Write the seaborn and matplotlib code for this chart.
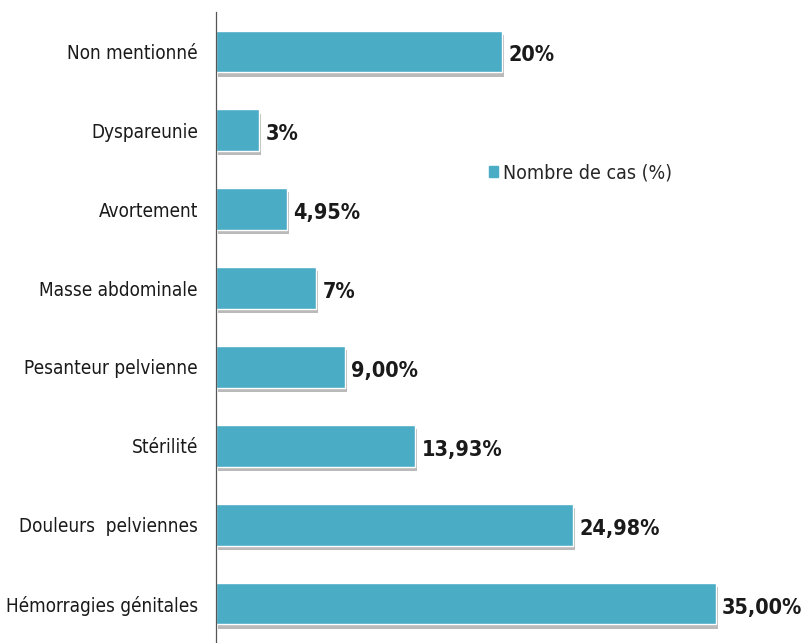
import matplotlib
matplotlib.use("Agg")
import matplotlib.pyplot as plt
import matplotlib.patheffects as pe
from matplotlib.patches import Patch
import seaborn as sns
import pandas as pd

categories = [
    "Non mentionné",
    "Dyspareunie",
    "Avortement",
    "Masse abdominale",
    "Pesanteur pelvienne",
    "Stérilité",
    "Douleurs  pelviennes",
    "Hémorragies génitales",
]
values = [20, 3, 4.95, 7, 9.00, 13.93, 24.98, 35.00]
value_labels = ["20%", "3%", "4,95%", "7%", "9,00%", "13,93%", "24,98%", "35,00%"]
series_name = "Nombre de cas (%)"

BAR_COLOR = "#4BACC6"

sns.set_style("white")
plt.rcParams["font.family"] = ["DejaVu Sans"]
plt.rcParams["font.stretch"] = "condensed"

df = pd.DataFrame({"cat": categories, "val": values})

fig = plt.figure(figsize=(8.1, 6.43), dpi=100)
ax = fig.add_axes([216 / 810, 0.0, 1 - 216 / 810, 1 - 12 / 643])

sns.barplot(data=df, x="val", y="cat", orient="h", color=BAR_COLOR,
            width=0.53, saturation=1, ax=ax)

# soft drop shadow under each bar, like the original
for patch in ax.patches:
    patch.set_path_effects([
        pe.SimplePatchShadow(offset=(1.5, -3), shadow_rgbFace="#8c8c8c", alpha=0.6),
        pe.Normal(),
    ])

for i, (v, lab) in enumerate(zip(values, value_labels)):
    ax.text(v + 0.45, i + 0.05, lab, va="center", ha="left",
            fontsize=15.5, fontweight="bold", color="#1a1a1a")

ax.set_xlim(0, 41.6)
ax.set_ylim(7.5, -0.5)
ax.set_xlabel("")
ax.set_ylabel("")
ax.set_xticks([])
ax.tick_params(axis="y", length=0, pad=13, labelsize=13.6, labelcolor="#1a1a1a")
for s in ["top", "right", "bottom"]:
    ax.spines[s].set_visible(False)
ax.spines["left"].set_color("#555555")
ax.spines["left"].set_linewidth(0.9)

ax.legend(handles=[Patch(color=BAR_COLOR, label=series_name)],
          loc="center left", bbox_to_anchor=(0.43, 0.745), frameon=False,
          handlelength=0.45, handleheight=0.45, handletextpad=0.25,
          fontsize=14)

fig.savefig("out.png", dpi=100)
